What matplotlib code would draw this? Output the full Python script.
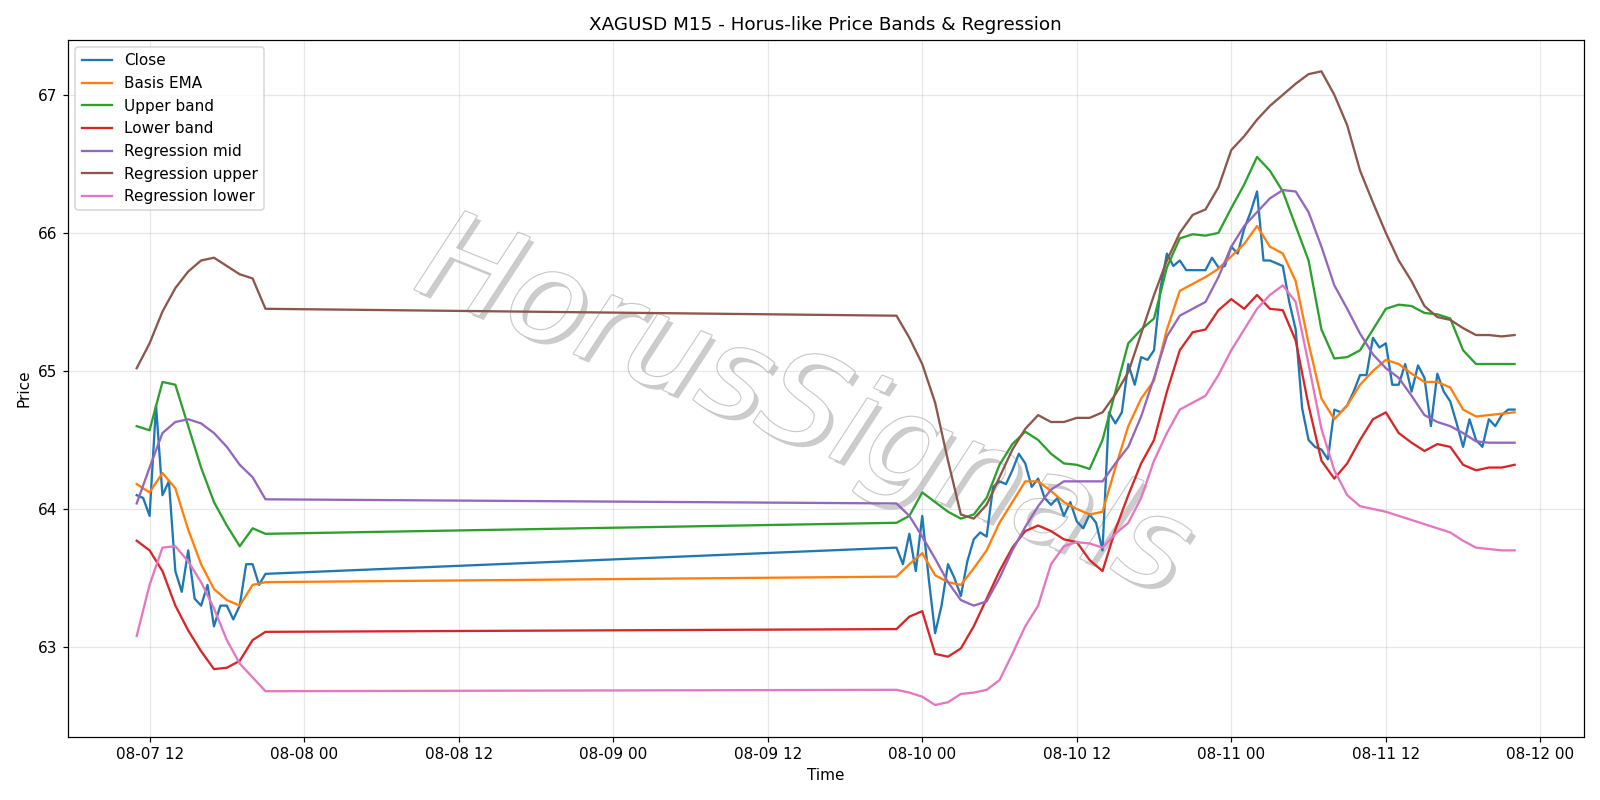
import numpy as np
import pandas as pd
import matplotlib
matplotlib.use('Agg')
import matplotlib.pyplot as plt
import matplotlib.dates as mdates
import matplotlib.patheffects as pe

# hourly values, session 1 (08-07 11:00 .. 21:00) and session 2 (08-09 22:00 .. 08-11 22:00)
basis_1 = [64.18, 64.12, 64.26, 64.15, 63.85, 63.6, 63.42, 63.34, 63.3, 63.45, 63.47]
upper_1 = [64.6, 64.57, 64.92, 64.9, 64.6, 64.3, 64.05, 63.88, 63.73, 63.86, 63.82]
lower_1 = [63.77, 63.7, 63.55, 63.3, 63.12, 62.97, 62.84, 62.85, 62.9, 63.05, 63.11]
reg_mid_1 = [64.04, 64.3, 64.55, 64.63, 64.65, 64.62, 64.55, 64.45, 64.32, 64.23, 64.07]
reg_up_1 = [65.02, 65.2, 65.43, 65.6, 65.72, 65.8, 65.82, 65.76, 65.7, 65.67, 65.45]
reg_lo_1 = [63.08, 63.45, 63.72, 63.73, 63.62, 63.47, 63.28, 63.05, 62.88, 62.78, 62.68]

basis_2 = [63.51, 63.6, 63.68, 63.52, 63.47, 63.45, 63.57, 63.7, 63.9, 64.05, 64.2, 64.2, 64.13,
           64.05, 64.0, 63.96, 63.98, 64.3, 64.6, 64.8, 64.93, 65.3, 65.58, 65.63, 65.68, 65.74,
           65.83, 65.92, 66.05, 65.9, 65.85, 65.65, 65.2, 64.8, 64.65, 64.75, 64.9, 65.0, 65.08,
           65.05, 64.98, 64.92, 64.92, 64.88, 64.72, 64.67, 64.68, 64.69, 64.7]
upper_2 = [63.9, 63.95, 64.12, 64.05, 63.98, 63.93, 63.96, 64.08, 64.32, 64.47, 64.56, 64.5, 64.4,
           64.33, 64.32, 64.29, 64.5, 64.85, 65.2, 65.3, 65.38, 65.75, 65.96, 65.99, 65.98, 66.0,
           66.18, 66.35, 66.55, 66.45, 66.3, 66.05, 65.8, 65.3, 65.09, 65.1, 65.15, 65.3, 65.45,
           65.48, 65.47, 65.42, 65.41, 65.38, 65.15, 65.05, 65.05, 65.05, 65.05]
lower_2 = [63.13, 63.22, 63.26, 62.95, 62.93, 62.99, 63.15, 63.35, 63.55, 63.72, 63.84, 63.88, 63.84,
           63.78, 63.76, 63.63, 63.55, 63.85, 64.1, 64.33, 64.5, 64.85, 65.15, 65.28, 65.3, 65.44,
           65.52, 65.45, 65.55, 65.45, 65.44, 65.22, 64.75, 64.35, 64.22, 64.33, 64.5, 64.65, 64.7,
           64.55, 64.48, 64.42, 64.47, 64.45, 64.32, 64.28, 64.3, 64.3, 64.32]
reg_mid_2 = [64.04, 63.95, 63.8, 63.64, 63.47, 63.34, 63.3, 63.33, 63.5, 63.7, 63.87, 64.02, 64.14,
             64.2, 64.2, 64.2, 64.2, 64.33, 64.45, 64.67, 64.95, 65.25, 65.4, 65.45, 65.5, 65.68,
             65.9, 66.05, 66.15, 66.25, 66.31, 66.3, 66.15, 65.9, 65.62, 65.45, 65.27, 65.12, 65.02,
             64.95, 64.82, 64.68, 64.63, 64.6, 64.55, 64.49, 64.48, 64.48, 64.48]
reg_up_2 = [65.4, 65.24, 65.05, 64.77, 64.35, 63.96, 63.93, 64.03, 64.23, 64.43, 64.58, 64.68, 64.63,
            64.63, 64.66, 64.66, 64.7, 64.83, 64.99, 65.27, 65.55, 65.8, 66.0, 66.13, 66.17, 66.33,
            66.6, 66.7, 66.82, 66.92, 67.0, 67.08, 67.15, 67.17, 67.0, 66.78, 66.45, 66.22, 66.0,
            65.8, 65.65, 65.47, 65.39, 65.37, 65.31, 65.26, 65.26, 65.25, 65.26]
reg_lo_2 = [62.69, 62.67, 62.64, 62.58, 62.6, 62.66, 62.67, 62.69, 62.76, 62.95, 63.15, 63.3, 63.6,
            63.73, 63.76, 63.75, 63.72, 63.82, 63.9, 64.08, 64.35, 64.55, 64.72, 64.77, 64.82, 64.97,
            65.15, 65.3, 65.45, 65.55, 65.62, 65.5, 65.05, 64.58, 64.28, 64.1, 64.02, 64.0, 63.98,
            63.95, 63.92, 63.89, 63.86, 63.83, 63.77, 63.72, 63.71, 63.7, 63.7]

# close, half-hourly
close_1 = [64.1, 64.08, 63.95, 64.75, 64.1, 64.2, 63.55, 63.4, 63.7, 63.35, 63.3, 63.45, 63.15,
           63.3, 63.3, 63.2, 63.3, 63.6, 63.6, 63.45, 63.53]
close_2 = [63.72, 63.6, 63.82, 63.55, 63.95, 63.5, 63.1, 63.3, 63.6, 63.5, 63.37, 63.62, 63.78,
           63.83, 63.8, 64.16, 64.2, 64.18, 64.28, 64.4, 64.33, 64.16, 64.22, 64.08, 64.03, 64.08,
           63.95, 64.05, 63.91, 63.86, 63.96, 63.9, 63.7, 64.7, 64.62, 64.7, 65.05, 64.9, 65.1,
           65.08, 65.15, 65.6, 65.85, 65.76, 65.8, 65.73, 65.73, 65.73, 65.73, 65.82, 65.75, 65.76,
           65.9, 65.85, 66.03, 66.15, 66.3, 65.8, 65.8, 65.78, 65.76, 65.5, 65.3, 64.73, 64.5,
           64.45, 64.43, 64.36, 64.72, 64.7, 64.75, 64.85, 64.97, 64.97, 65.24, 65.17, 65.2, 64.9,
           64.9, 65.05, 64.85, 65.04, 64.95, 64.6, 64.98, 64.85, 64.78, 64.62, 64.45, 64.65, 64.5,
           64.45, 64.65, 64.6, 64.68, 64.72, 64.72]

t_h = pd.date_range("2025-08-07 11:00", periods=len(basis_1), freq="h").append(
    pd.date_range("2025-08-09 22:00", periods=len(basis_2), freq="h"))
t_c = pd.date_range("2025-08-07 11:00", periods=len(close_1), freq="30min").append(
    pd.date_range("2025-08-09 22:00", periods=len(close_2), freq="30min"))

fig, ax = plt.subplots(figsize=(16 / 1.1, 8 / 1.1), dpi=110)
ax.plot(t_c, close_1 + close_2, label="Close", color="#1f77b4", lw=1.5)
ax.plot(t_h, basis_1 + basis_2, label="Basis EMA", color="#ff7f0e", lw=1.5)
ax.plot(t_h, upper_1 + upper_2, label="Upper band", color="#2ca02c", lw=1.5)
ax.plot(t_h, lower_1 + lower_2, label="Lower band", color="#d62728", lw=1.5)
ax.plot(t_h, reg_mid_1 + reg_mid_2, label="Regression mid", color="#9467bd", lw=1.5)
ax.plot(t_h, reg_up_1 + reg_up_2, label="Regression upper", color="#8c564b", lw=1.5)
ax.plot(t_h, reg_lo_1 + reg_lo_2, label="Regression lower", color="#e377c2", lw=1.5)

ax.text(0.485, 0.47, "HorusSignals", transform=ax.transAxes, fontsize=82, style="italic",
        color="white", rotation=-22, ha="center", va="center", zorder=1.5,
        path_effects=[pe.withSimplePatchShadow(offset=(3, -3), shadow_rgbFace="#aaaaaa", alpha=0.6),
                      pe.withStroke(linewidth=1.5, foreground="#c8c8c8")])

ax.xaxis.set_major_locator(mdates.HourLocator(byhour=[0, 12]))
ax.xaxis.set_major_formatter(mdates.DateFormatter("%m-%d %H"))
ax.set_title("XAGUSD M15 - Horus-like Price Bands & Regression")
ax.set_xlabel("Time")
ax.set_ylabel("Price")
ax.grid(alpha=0.3)
ax.legend(loc="upper left")
plt.tight_layout()
plt.savefig("out.png", dpi=110)
